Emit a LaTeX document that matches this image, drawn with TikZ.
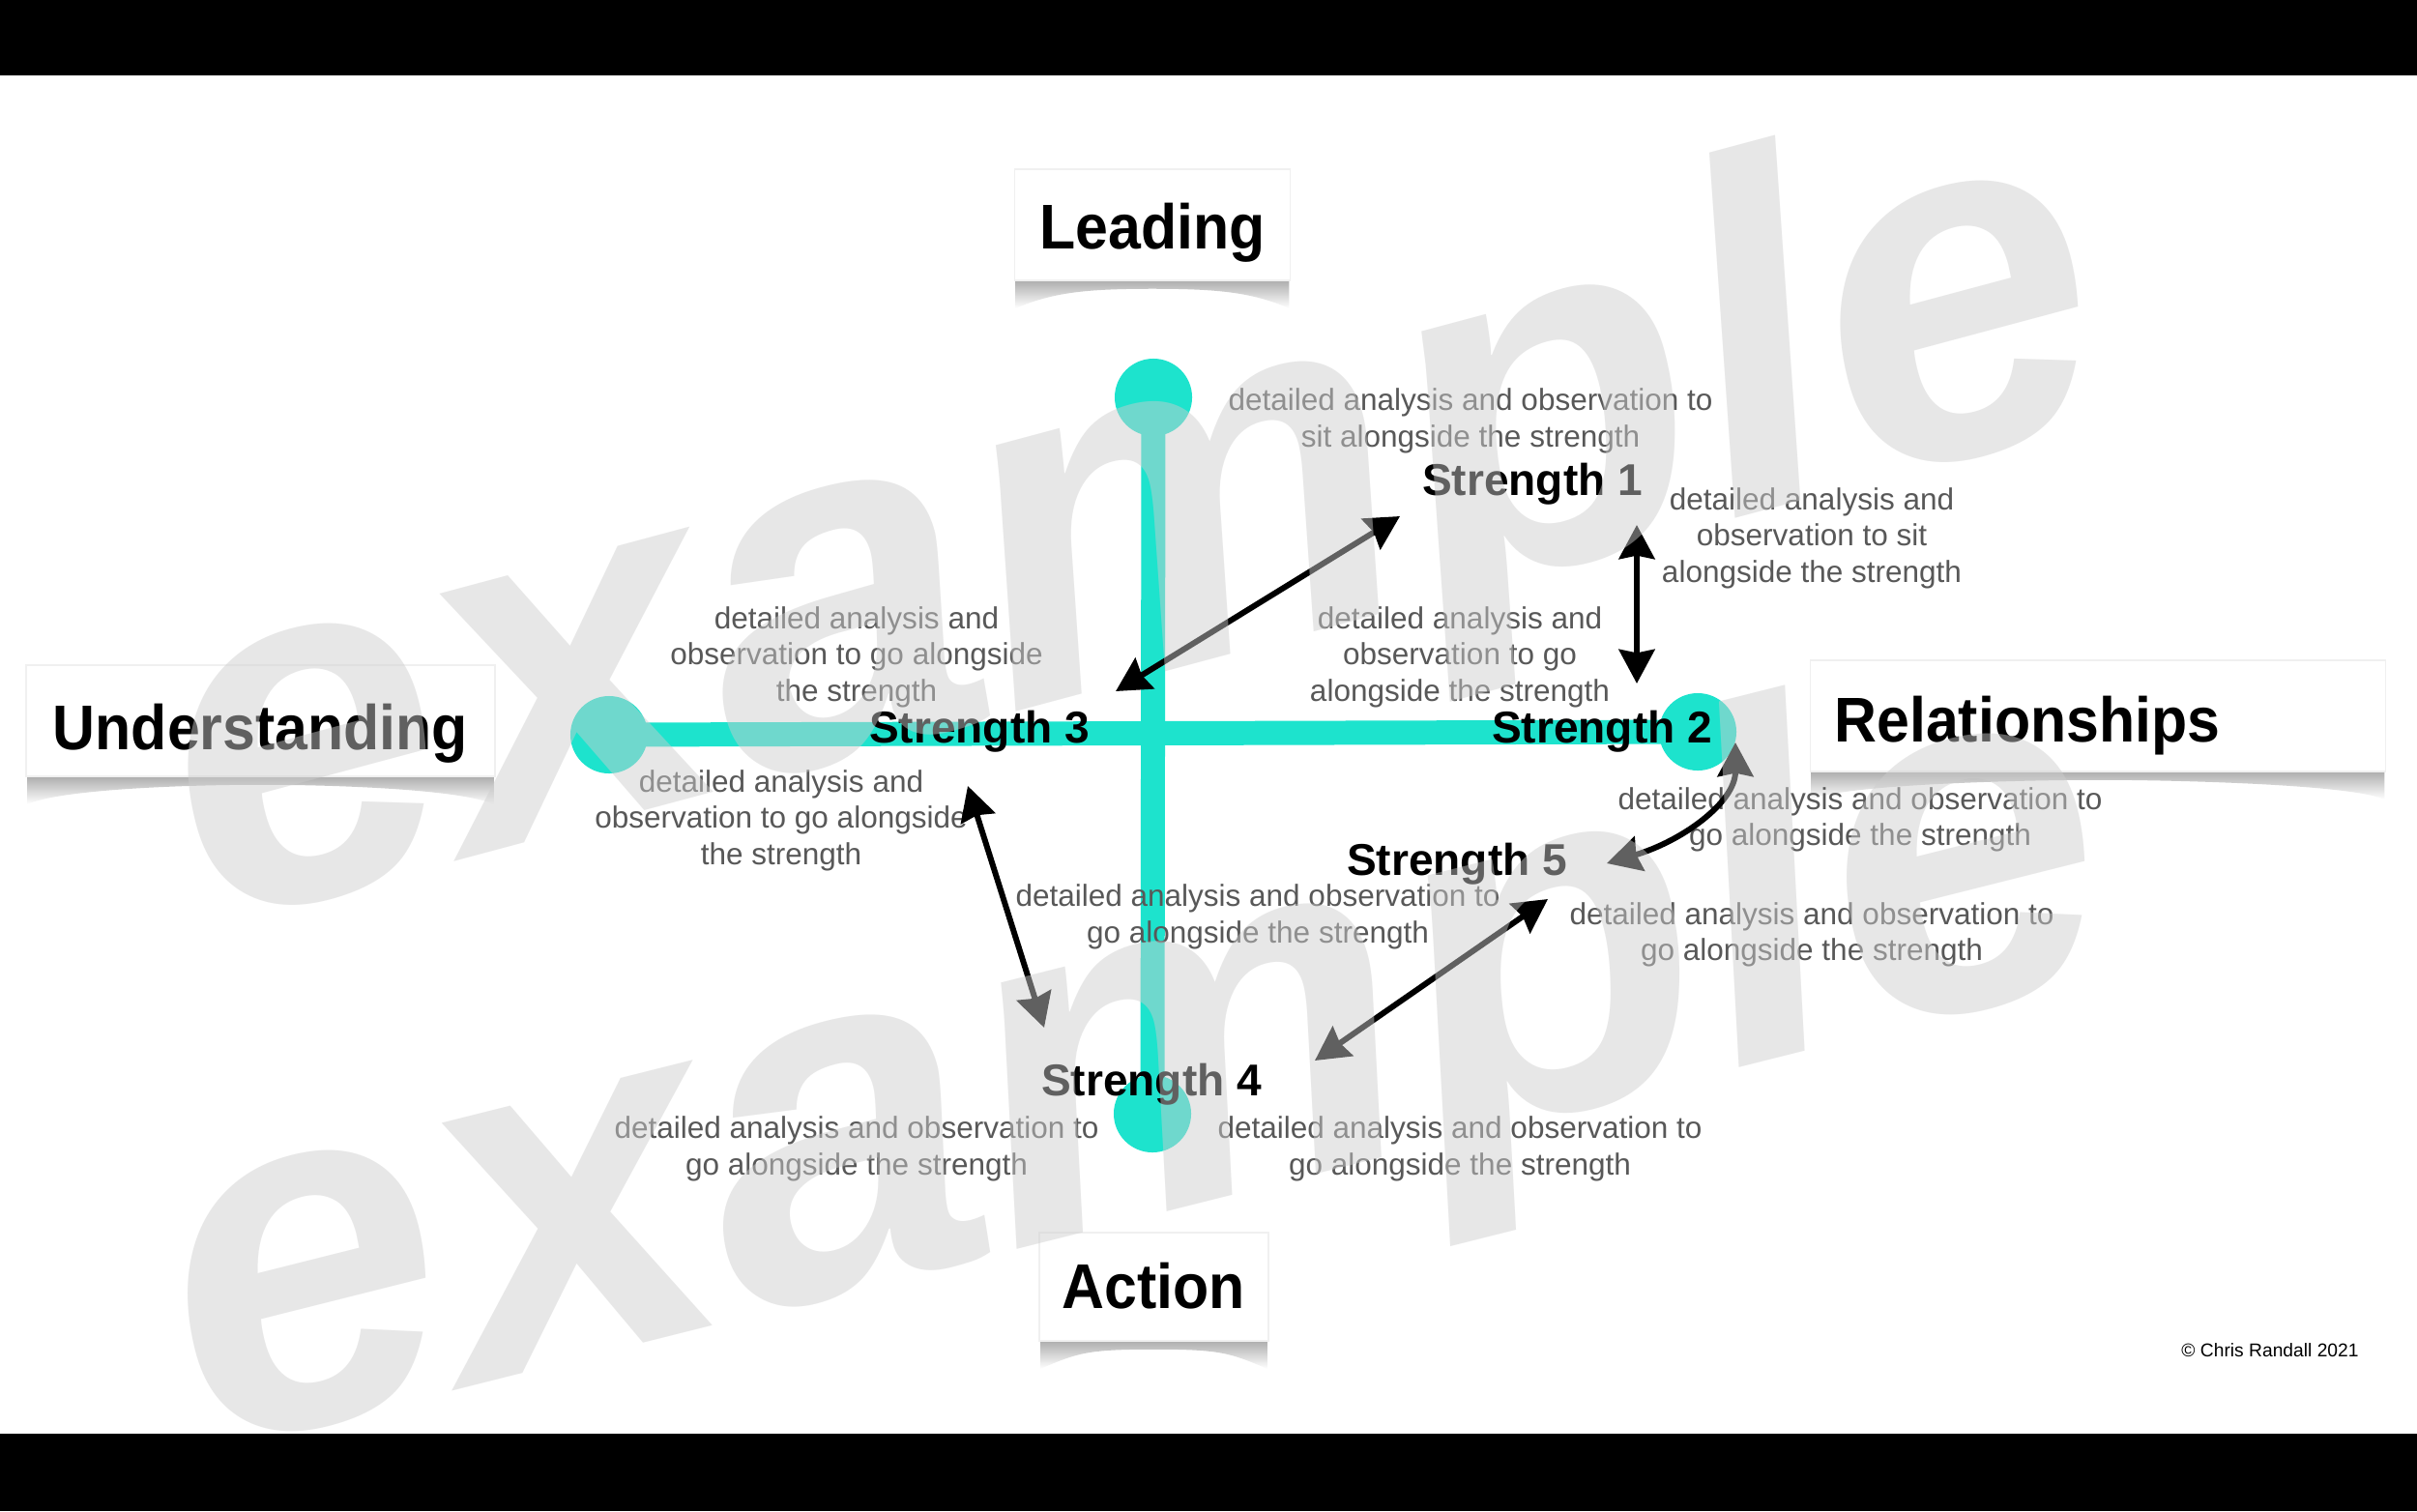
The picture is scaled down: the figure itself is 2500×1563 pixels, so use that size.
\documentclass[tikz,border=0pt]{standalone}
\usepackage{fontspec}
\setmainfont{Liberation Sans}
\newfontfamily\headfont{Liberation Sans}[FakeStretch=0.93]
\usetikzlibrary{arrows.meta,calc}
\definecolor{turq}{RGB}{29,227,205}
\definecolor{dettext}{RGB}{88,88,88}
\definecolor{wmgray}{RGB}{205,205,205}
\newcommand\boxshadow[1]{%
  \shade[top color=black!38, bottom color=white]
    ($(#1.south west)+(2,-6)$) -- ($(#1.south west)+(2,28)$)
    .. controls ($(#1.south west)+(40,12)$) and ($(#1.south)+(-70,8)$) .. ($(#1.south)+(0,8)$)
    .. controls ($(#1.south)+(70,8)$) and ($(#1.south east)+(-40,12)$) .. ($(#1.south east)+(-2,28)$)
    -- ($(#1.south east)+(-2,-6)$) -- cycle;}
\begin{document}
\begin{tikzpicture}[x=0.01cm,y=-0.01cm,
  det/.style={font=\fontsize{8.96pt}{10.7pt}\selectfont, text=dettext, align=center, inner sep=0pt},
  strlabel/.style={font=\fontsize{13.1pt}{15pt}\selectfont\bfseries, text=black, inner sep=0pt, anchor=base},
  headbox/.style={font=\headfont\fontsize{18.6pt}{20pt}\selectfont\bfseries, text=black, fill=white, draw=black!6, inner sep=0pt},
  dotc/.style={circle, fill=turq, minimum size=0.8cm, inner sep=0pt},
  axis/.style={turq, line width=7.1pt},
  arr/.style={line width=1.7pt, {Stealth[length=10pt,width=10.5pt,inset=1pt]}-{Stealth[length=10pt,width=10.5pt,inset=1pt]}},
  wm/.style={font=\fontsize{146pt}{146pt}\selectfont\bfseries\itshape, text=wmgray, opacity=0.47, inner sep=0pt, anchor=base west}
]
\useasboundingbox (0,0) rectangle (2500,1563);
\fill[white] (0,0) rectangle (2500,1563);

% axes
\node[dotc] (top) at (1193,411) {};
\node[dotc] (bot) at (1192,1152) {};
\node[dotc] (lft) at (630,760) {};
\node[dotc] (rgt) at (1756,757) {};
\draw[axis] (top.center) -- (bot.center);
\draw[axis] (lft.center) -- (rgt.center);

% heading boxes (shadow first, then box with label)
\path (1192,232.5) node[headbox, minimum width=2.85cm, minimum height=1.15cm, draw=none, fill=none] (lead) {}
      (269.5,745.5) node[headbox, minimum width=4.85cm, minimum height=1.15cm, draw=none, fill=none] (und) {}
      (2170,740.5) node[headbox, minimum width=5.95cm, minimum height=1.15cm, draw=none, fill=none] (rel) {}
      (1193.5,1331) node[headbox, minimum width=2.37cm, minimum height=1.12cm, draw=none, fill=none] (act) {};
\boxshadow{lead}\boxshadow{und}\boxshadow{rel}\boxshadow{act}
\node[headbox, minimum width=2.85cm, text height=0.82cm, text depth=0.33cm] (leadtxt) at (lead) {Leading};
\node[headbox, minimum width=4.85cm, text height=0.87cm, text depth=0.28cm] (undtxt) at (und) {Understanding};
\node[headbox, minimum width=5.95cm, text width=5.45cm, align=left, text height=0.84cm, text depth=0.31cm] (reltxt) at (rel) {Relationships};
\node[headbox, minimum width=2.37cm, text height=0.78cm, text depth=0.34cm] (acttxt) at (act) {Action};

% strength labels
\node[strlabel] (s1) at (1585,512) {Strength 1};
\node[strlabel] (s2) at (1657,768) {Strength 2};
\node[strlabel] (s3) at (1013,768) {Strength 3};
\node[strlabel] (s4) at (1191,1133) {Strength 4};
\node[strlabel] (s5) at (1507,905) {Strength 5};

% detail texts
\node[det] (d1) at (1521,435.5) {detailed analysis and observation to\\sit alongside the strength};
\node[det] (d2) at (1874,556.5) {detailed analysis and\\observation to sit\\alongside the strength};
\node[det] (d3) at (1510,679.5) {detailed analysis and\\observation to go\\alongside the strength};
\node[det] (d4) at (886,679.5) {detailed analysis and\\observation to go alongside\\the strength};
\node[det] (d5) at (808,848.5) {detailed analysis and\\observation to go alongside\\the strength};
\node[det] (d6) at (1924,848) {detailed analysis and observation to\\go alongside the strength};
\node[det] (d7) at (1874,967) {detailed analysis and observation to\\go alongside the strength};
\node[det] (d8) at (1301,948.5) {detailed analysis and observation to\\go alongside the strength};
\node[det] (d9) at (886,1188.5) {detailed analysis and observation to\\go alongside the strength};
\node[det] (d10) at (1510,1188.5) {detailed analysis and observation to\\go alongside the strength};

% arrows
\coordinate (a1s) at (1154,715); \coordinate (a1e) at (1448,534);
\coordinate (a2s) at (1693,543); \coordinate (a2e) at (1693,707);
\coordinate (a3s) at (1662,893); \coordinate (a3e) at (1795,768);
\coordinate (a4s) at (1001,813); \coordinate (a4e) at (1080,1063);
\coordinate (a5s) at (1601,930); \coordinate (a5e) at (1360,1097);
\draw[arr] (a1s) -- (a1e);
\draw[arr] (a2s) -- (a2e);
\draw[arr] (a3s) .. controls (1740,870) and (1795,830) .. (a3e);
\draw[arr] (a4s) -- (a4e);
\draw[arr] (a5s) -- (a5e);

% copyright
\node[font=\fontsize{5.47pt}{6pt}\selectfont, inner sep=0pt, anchor=base] (copy) at (2348,1403) {\textcopyright{} Chris Randall 2021};

% watermark
\node[wm, rotate=15] (wm1) at (215,960) {example};
\node[wm, rotate=14.1] (wm2) at (212,1503) {example};

% letterbox bars
\fill[black] (0,0) rectangle (2500,78);
\fill[black] (0,1483) rectangle (2500,1563);
\end{tikzpicture}
\end{document}
